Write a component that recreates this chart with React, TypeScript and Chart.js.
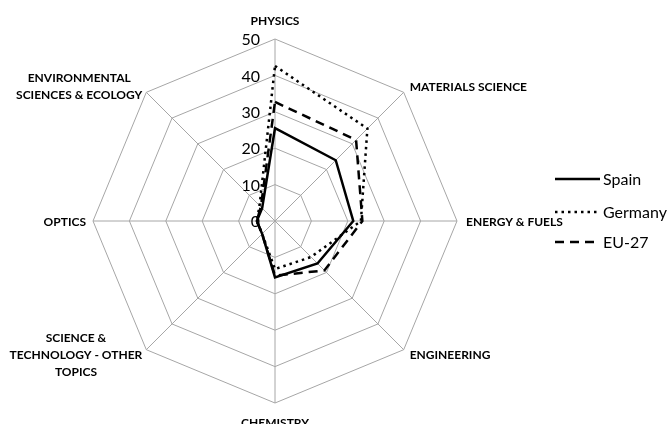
import React, { useEffect, useRef } from "react";
import { Chart, registerables } from "chart.js";

Chart.register(...registerables);

const categories: (string | string[])[] = [
  "PHYSICS",
  "MATERIALS SCIENCE",
  "ENERGY & FUELS",
  "ENGINEERING",
  "CHEMISTRY",
  ["SCIENCE &", "TECHNOLOGY - OTHER", "TOPICS"],
  "OPTICS",
  ["ENVIRONMENTAL", "SCIENCES & ECOLOGY"],
];

const spain = [25.5, 23.6, 21.5, 16.5, 15.5, 5, 5, 5];
const germany = [42.6, 35.9, 23.6, 14, 13.2, 5, 5, 6];
const eu27 = [32.7, 31.5, 24, 19.2, 15, 5, 5, 5.5];

const tickValues = [0, 10, 20, 30, 40, 50];

const seriesNames = ["Spain", "Germany", "EU-27"];

const LABEL_FONT = "bold 12px Lato";
const TICK_FONT = "16px Lato";
const LEGEND_FONT = "16px Lato";

const dashes: number[][] = [[], [2.5, 4], [9, 6]];

const decorPlugin = {
  id: "decor",
  afterDraw(chart: any) {
    const ctx = chart.ctx as CanvasRenderingContext2D;
    const scale = chart.scales.r;
    const cx = scale.xCenter;
    const cy = scale.yCenter;
    ctx.save();
    // tick labels
    ctx.font = TICK_FONT;
    ctx.fillStyle = "#000";
    ctx.textAlign = "right";
    ctx.textBaseline = "middle";
    scale.ticks.forEach((t: any) => {
      const d = scale.getDistanceFromCenterForValue(t.value);
      ctx.fillText(String(t.value), cx - 15, cy - d + 1);
    });
    // point labels
    ctx.font = LABEL_FONT;
    const n = chart.data.labels.length;
    for (let i = 0; i < n; i++) {
      const lab = chart.data.labels[i];
      const lines: string[] = Array.isArray(lab) ? lab : [lab];
      const p = scale.getPointPosition(i, scale.drawingArea);
      const dx = p.x - cx;
      const dy = p.y - cy;
      const lh = 17;
      let x = p.x;
      let yMid = p.y;
      ctx.textBaseline = "middle";
      if (Math.abs(dx) < 2) {
        ctx.textAlign = "center";
        yMid = dy < 0 ? p.y - 18 : p.y + 20;
        lines.forEach((l, k) => ctx.fillText(l, x, yMid + (k - (lines.length - 1) / 2) * lh));
        continue;
      }
      const horiz = Math.abs(dy) < 2;
      if (horiz) yMid = p.y + 1;
      else yMid = dy < 0 ? p.y - 5.5 : p.y + 5.5;
      if (dx > 0) {
        ctx.textAlign = "left";
        x = p.x + (horiz ? 9 : 6);
        lines.forEach((l, k) => ctx.fillText(l, x, yMid + (k - (lines.length - 1) / 2) * lh));
      } else {
        const w = Math.max(...lines.map((l) => ctx.measureText(l).width));
        const right = p.x - (horiz ? 7 : 4);
        ctx.textAlign = "center";
        lines.forEach((l, k) => ctx.fillText(l, right - w / 2, yMid + (k - (lines.length - 1) / 2) * lh));
      }
    }
    // legend
    const legY = [179, 212, 242];
    ctx.font = LEGEND_FONT;
    ctx.textAlign = "left";
    ctx.textBaseline = "middle";
    chart.data.datasets.forEach((ds: any, i: number) => {
      ctx.beginPath();
      ctx.setLineDash(dashes[i]);
      ctx.lineWidth = 2.5;
      ctx.strokeStyle = "#000";
      ctx.moveTo(555, legY[i]);
      ctx.lineTo(600, legY[i]);
      ctx.stroke();
      ctx.setLineDash([]);
      ctx.fillText(ds.label, 603, legY[i] + 1);
    });
    ctx.restore();
  },
};

export default function App() {
  const ref = useRef<HTMLCanvasElement>(null);
  useEffect(() => {
    if (!ref.current) return;
    const mk = (label: string, data: number[], dash: number[]) => ({
      label,
      data,
      borderColor: "#000",
      borderWidth: 2.5,
      borderDash: dash,
      fill: false,
      pointRadius: 0,
      tension: 0,
    });
    const chart = new Chart(ref.current, {
      type: "radar",
      data: {
        labels: categories,
        datasets: [
          mk(seriesNames[0], spain, dashes[0]),
          mk(seriesNames[1], germany, dashes[1]),
          mk(seriesNames[2], eu27, dashes[2]),
        ],
      },
      options: {
        responsive: false,
        animation: false,
        layout: { padding: { left: 93, right: 215, top: 39, bottom: 21 } },
        plugins: { legend: { display: false }, tooltip: { enabled: false } },
        scales: {
          r: {
            min: tickValues[0],
            max: tickValues[tickValues.length - 1],
            ticks: { stepSize: 10, display: false },
            grid: { color: "#a6a6a6", lineWidth: 1, circular: false },
            angleLines: { color: "#a6a6a6", lineWidth: 1 },
            pointLabels: { display: false },
          },
        },
      },
      plugins: [decorPlugin],
    } as any);
    return () => chart.destroy();
  }, []);
  return (
    <div style={{ position: "absolute", left: 0, top: 0, width: 672, height: 424, background: "#fff" }}>
      <canvas ref={ref} width={672} height={424} />
    </div>
  );
}
